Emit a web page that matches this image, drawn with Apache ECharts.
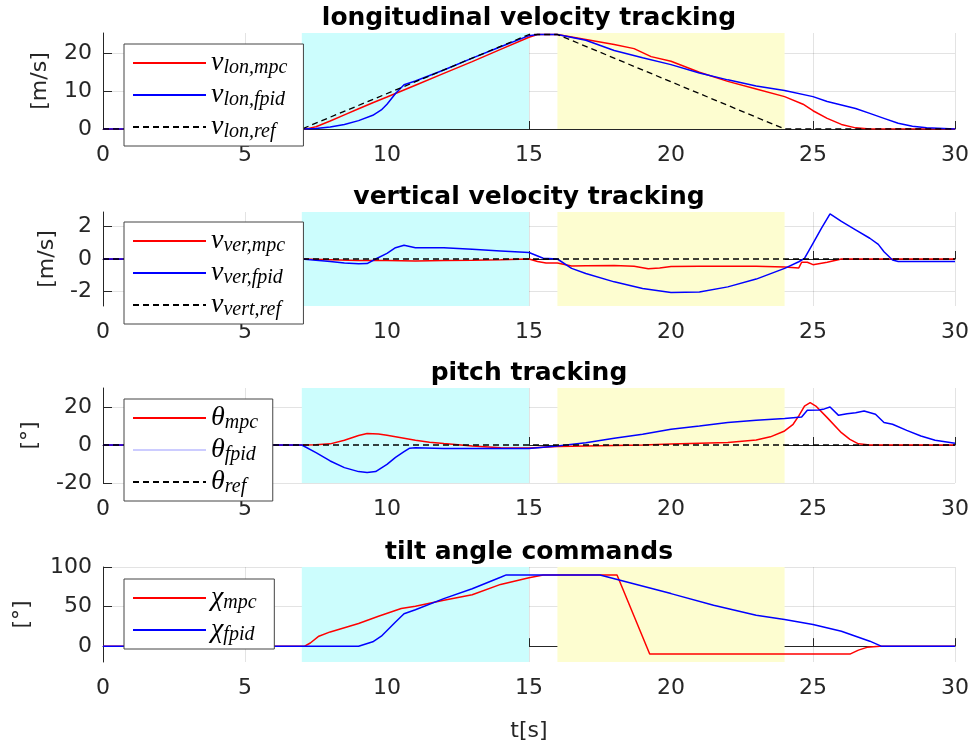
<!DOCTYPE html>
<html>
<head>
<meta charset="utf-8">
<script src="https://cdn.jsdelivr.net/npm/echarts@6/dist/echarts.min.js"></script>
<style>html,body{margin:0;padding:0;background:#fff;}#c{width:975px;height:751px;}</style>
</head>
<body>
<div id="c"></div>
<script>
// ---------- data ----------
const titles = ['longitudinal velocity tracking', 'vertical velocity tracking', 'pitch tracking', 'tilt angle commands'];
const yNames = ['[m/s]', '[m/s]', '[°]', '[°]'];
const xTicks = [0, 5, 10, 15, 20, 25, 30];
const yTicks1 = [0, 10, 20];
const yTicks2 = [-2, 0, 2];
const yTicks3 = [-20, 0, 20];
const yTicks4 = [0, 50, 100];
const phaseCyan = [7, 15];
const phaseYellow = [16, 24];

// longitudinal velocity
const lonRefT = [0, 7, 15, 16, 24, 30];
const lonRefV = [0, 0, 24.8, 24.8, 0, 0];
const lonMpcT = [0, 7, 7.2, 7.5, 8, 8.5, 9, 9.5, 10, 11, 12, 13, 14, 15, 15.3, 16, 17, 18, 18.7, 19.3, 20, 21, 22, 23, 24, 24.65, 25, 25.5, 26, 26.5, 27, 30];
const lonMpcV = [0, 0, 0.1, 0.6, 2.1, 3.7, 5.3, 6.9, 8.4, 11.5, 14.6, 17.7, 20.9, 24.1, 24.8, 24.8, 23.5, 22.2, 21.1, 19.0, 17.8, 14.9, 12.5, 10.5, 8.5, 6.5, 4.8, 2.8, 1.2, 0.3, 0, 0];
const lonFpidT = [0, 7, 7.5, 8, 8.5, 9, 9.5, 9.8, 10, 10.3, 10.6, 11, 12, 13, 14, 15, 15.3, 16, 17, 18, 19, 20, 21, 22, 23, 24, 25, 25.5, 26, 26.5, 27, 27.5, 28, 28.5, 29, 30];
const lonFpidV = [0, 0, 0.1, 0.5, 1.2, 2.2, 3.6, 5.0, 6.5, 9.3, 11.6, 12.6, 15.5, 18.6, 21.6, 24.5, 24.8, 24.8, 23.3, 20.6, 18.7, 16.9, 14.7, 12.9, 11.3, 10.1, 8.5, 7.2, 6.3, 5.4, 4.1, 2.8, 1.5, 0.7, 0.3, 0];

// vertical velocity
const verRefT = [0, 30];
const verRefV = [0, 0];
const verMpcT = [0, 7, 8, 9, 10, 11, 12, 13, 14, 15, 15.3, 15.6, 16, 16.5, 17, 18, 18.7, 19.2, 19.6, 20, 21, 22, 23, 24, 24.5, 24.6, 24.8, 25, 25.5, 26, 30];
const verMpcV = [0, 0, -0.05, -0.1, -0.1, -0.12, -0.1, -0.08, -0.05, 0, -0.15, -0.25, -0.25, -0.43, -0.42, -0.4, -0.45, -0.6, -0.55, -0.47, -0.45, -0.45, -0.45, -0.5, -0.55, -0.2, -0.2, -0.35, -0.2, 0, 0];
const verFpidT = [0, 7, 8, 8.5, 9, 9.3, 9.6, 10, 10.3, 10.6, 11, 12, 13, 14, 15, 15.5, 16, 16.5, 17, 18, 19, 20, 21, 22, 23, 24, 24.5, 24.7, 25, 25.3, 25.6, 26, 26.5, 27, 27.3, 27.5, 27.8, 28, 29, 30];
const verFpidV = [0, 0, -0.15, -0.25, -0.3, -0.28, 0, 0.35, 0.7, 0.85, 0.7, 0.7, 0.6, 0.5, 0.4, 0.05, 0, -0.58, -0.89, -1.41, -1.82, -2.07, -2.03, -1.72, -1.24, -0.58, -0.17, 0.04, 0.97, 1.9, 2.78, 2.32, 1.8, 1.28, 0.9, 0.45, -0.06, -0.15, -0.15, -0.15];

// pitch
const thRefT = [0, 30];
const thRefV = [0, 0];
const thMpcT = [0, 7, 7.5, 8, 8.5, 9, 9.3, 9.7, 10, 10.5, 11, 11.5, 12, 13, 14, 15, 15.5, 16, 17, 18, 19, 20, 21, 22, 23, 23.5, 24, 24.3, 24.5, 24.7, 24.9, 25.1, 25.5, 26, 26.3, 26.6, 27, 30];
const thMpcV = [0, 0, 0.1, 0.6, 2.5, 5, 6, 5.8, 5.1, 3.8, 2.5, 1.5, 0.8, -0.5, -1.4, -1.6, -1.2, -0.8, -0.5, -0.2, 0, 0.5, 0.9, 1.3, 2.6, 4.3, 7.4, 10.9, 15.3, 20.5, 22.3, 20.5, 14.4, 6.5, 3, 0.6, 0, 0];
const thFpidT = [0, 7, 7.5, 8, 8.5, 9, 9.3, 9.6, 10, 10.3, 10.6, 10.8, 11, 12, 13, 14, 15, 16, 17, 18, 19, 20, 21, 22, 23, 24, 24.6, 24.8, 25.2, 25.4, 25.6, 25.9, 26.2, 26.5, 26.8, 27.2, 27.5, 27.8, 28.3, 28.8, 29.3, 30];
const thFpidV = [0, 0, -4, -8.4, -11.9, -14, -14.5, -14, -10.2, -6.5, -3.5, -1.7, -1.4, -1.8, -1.9, -1.9, -1.9, -0.5, 1.2, 3.5, 5.6, 8.3, 10, 11.8, 13, 13.9, 14.7, 18.3, 18.4, 19, 20, 15.6, 16.5, 17, 17.9, 16.2, 11.8, 10.9, 7.7, 4.7, 2.5, 0.9];

// tilt angle
const chiMpcT = [0, 7.1, 7.3, 7.6, 8, 9, 9.7, 10.5, 11, 12, 13, 14, 15, 15.5, 18.1, 19.25, 26.3, 26.6, 26.9, 27.35, 30];
const chiMpcV = [0, 0, 4, 12.6, 18, 28.6, 37.8, 47.5, 50.4, 58, 65, 78, 86.5, 90, 90, -10, -10, -5, -1.5, 0, 0];
const chiFpidT = [0, 9, 9.5, 9.8, 10.3, 10.6, 11, 12, 13, 14, 14.2, 17.5, 20, 21.5, 23, 24, 25, 26, 26.5, 27, 27.4, 30];
const chiFpidV = [0, 0, 5.5, 12.6, 30.6, 41, 46, 60, 72.6, 87, 90, 90, 66.4, 51.6, 39, 33.6, 27.3, 18.9, 12.6, 6.3, 0, 0];

// ---------- build ----------
const zip = (t, v) => t.map((x, i) => [x, v[i]]);
const RED = '#ff0000', BLUE = '#0000ff', BLACK = '#000000';
const FONT = 'DejaVu Sans';
const TXT = '#262626';

const gridTops = [33, 212, 388, 567];
const gridHeights = [96, 94, 95, 95];
const yRanges = [[0, 25.2], [-2.9, 2.9], [-20, 30], [-20, 100]];
const yTickSets = [yTicks1, yTicks2, yTicks3, yTicks4];
const yNameGaps = [52, 45, 62, 70];

const grids = gridTops.map((t, i) => ({ left: 103, right: 20, top: t, height: gridHeights[i], containLabel: false }));

const xAxes = grids.map((g, i) => ({
  type: 'value', gridIndex: i, min: 0, max: 30, interval: 5,
  axisLine: { show: true, lineStyle: { color: TXT, width: 1 } },
  axisTick: { show: true, inside: true, length: 8, lineStyle: { color: TXT } },
  axisLabel: { color: TXT, fontSize: 22, fontFamily: FONT, margin: 15, customValues: xTicks },
  splitLine: { show: true, lineStyle: { color: 'rgba(38,38,38,0.13)', width: 1 } },
  name: i === 3 ? 't[s]' : '', nameLocation: 'middle', nameGap: 58,
  nameTextStyle: { color: TXT, fontSize: 22, fontFamily: FONT }
}));

const yAxes = grids.map((g, i) => ({
  type: 'value', gridIndex: i, min: yRanges[i][0], max: yRanges[i][1],
  axisLine: { show: true, onZero: false, lineStyle: { color: TXT, width: 1 } },
  axisTick: { show: true, inside: true, length: 9, lineStyle: { color: TXT }, customValues: yTickSets[i] },
  axisLabel: { color: TXT, fontSize: 22, fontFamily: FONT, margin: 11, customValues: yTickSets[i] },
  splitLine: { show: true, lineStyle: { color: 'rgba(38,38,38,0.13)', width: 1 } },
  name: yNames[i], nameLocation: 'middle', nameGap: yNameGaps[i], nameRotate: 90,
  nameTextStyle: { color: TXT, fontSize: 22, fontFamily: FONT }
}));

function line(name, idx, t, v, color, dashed) {
  return {
    name: name, type: 'line', xAxisIndex: idx, yAxisIndex: idx,
    data: zip(t, v), symbol: 'none', showSymbol: false, z: 3,
    lineStyle: { color: color, width: dashed ? 1.3 : 1.5, type: dashed ? [6, 4] : 'solid' },
    itemStyle: { color: color }, animation: false
  };
}

const series = [];
for (let i = 0; i < 4; i++) {
  series.push({
    name: 'bg' + i, type: 'line', xAxisIndex: i, yAxisIndex: i, data: [], z: -1, silent: true,
    markArea: {
      silent: true,
      data: [
        [{ xAxis: phaseCyan[0], itemStyle: { color: '#ccfdfd' } }, { xAxis: phaseCyan[1] }],
        [{ xAxis: phaseYellow[0], itemStyle: { color: '#fdfdd0' } }, { xAxis: phaseYellow[1] }]
      ]
    }
  });
}
series.push(line('v_lon_mpc', 0, lonMpcT, lonMpcV, RED));
series.push(line('v_lon_fpid', 0, lonFpidT, lonFpidV, BLUE));
series.push(line('v_lon_ref', 0, lonRefT, lonRefV, BLACK, true));
series.push(line('v_ver_mpc', 1, verMpcT, verMpcV, RED));
series.push(line('v_ver_fpid', 1, verFpidT, verFpidV, BLUE));
series.push(line('v_vert_ref', 1, verRefT, verRefV, BLACK, true));
series.push(line('th_mpc', 2, thMpcT, thMpcV, RED));
series.push(line('th_fpid', 2, thFpidT, thFpidV, BLUE));
series.push(line('th_ref', 2, thRefT, thRefV, BLACK, true));
series.push(line('chi_mpc', 3, chiMpcT, chiMpcV, RED));
series.push(line('chi_fpid', 3, chiFpidT, chiFpidV, BLUE));

const legendLabels = {
  v_lon_mpc: '{m|v}{s|lon,mpc}', v_lon_fpid: '{m|v}{s|lon,fpid}', v_lon_ref: '{m|v}{s|lon,ref}',
  v_ver_mpc: '{m|v}{s|ver,mpc}', v_ver_fpid: '{m|v}{s|ver,fpid}', v_vert_ref: '{m|v}{s|vert,ref}',
  th_mpc: '{m|θ}{s|mpc}', th_fpid: '{m|θ}{s|fpid}', th_ref: '{m|θ}{s|ref}',
  chi_mpc: '{m|χ}{s|mpc}', chi_fpid: '{m|χ}{s|fpid}'
};
function makeRich(subW) {
  return {
    m: { fontFamily: 'Liberation Serif', fontStyle: 'italic', fontSize: 28, lineHeight: 30, color: '#000' },
    s: { fontFamily: 'Liberation Serif', fontStyle: 'italic', fontSize: 20, lineHeight: 16, verticalAlign: 'bottom', color: '#000', width: subW }
  };
}
function legend(items, top, subW, bottomPad) {
  return {
    orient: 'vertical', left: 124, top: top, padding: [5, 8, bottomPad, 8],
    itemWidth: 73, itemHeight: 14, itemGap: 3,
    backgroundColor: '#fff', borderColor: '#444', borderWidth: 1, borderRadius: 0,
    data: items, selectedMode: false,
    itemStyle: { opacity: 0, color: 'transparent', borderWidth: 0 },
    formatter: n => legendLabels[n],
    textStyle: { rich: makeRich(subW), fontSize: 18 }
  };
}
const legends = [
  legend(['v_lon_mpc', 'v_lon_fpid', 'v_lon_ref'], 44, 72, 4),
  legend(['v_ver_mpc', 'v_ver_fpid', 'v_vert_ref'], 222, 72, 4),
  legend(['th_mpc', { name: 'th_fpid', lineStyle: { color: '#ccccff' } }, 'th_ref'], 399, 40, 4),
  legend(['chi_mpc', 'chi_fpid'], 579, 43, 4)
];

const titleObjs = titles.map((t, i) => ({
  text: t, left: 529, top: gridTops[i] - 27, textAlign: 'center', padding: 0,
  textStyle: { fontFamily: FONT, fontWeight: 'bold', fontSize: 25, color: '#000' }
}));

const chart = echarts.init(document.getElementById('c'), null, { renderer: 'canvas' });
chart.setOption({
  animation: false,
  backgroundColor: '#fff',
  title: titleObjs,
  grid: grids,
  xAxis: xAxes,
  yAxis: yAxes,
  legend: legends,
  series: series
});
</script>
</body>
</html>
